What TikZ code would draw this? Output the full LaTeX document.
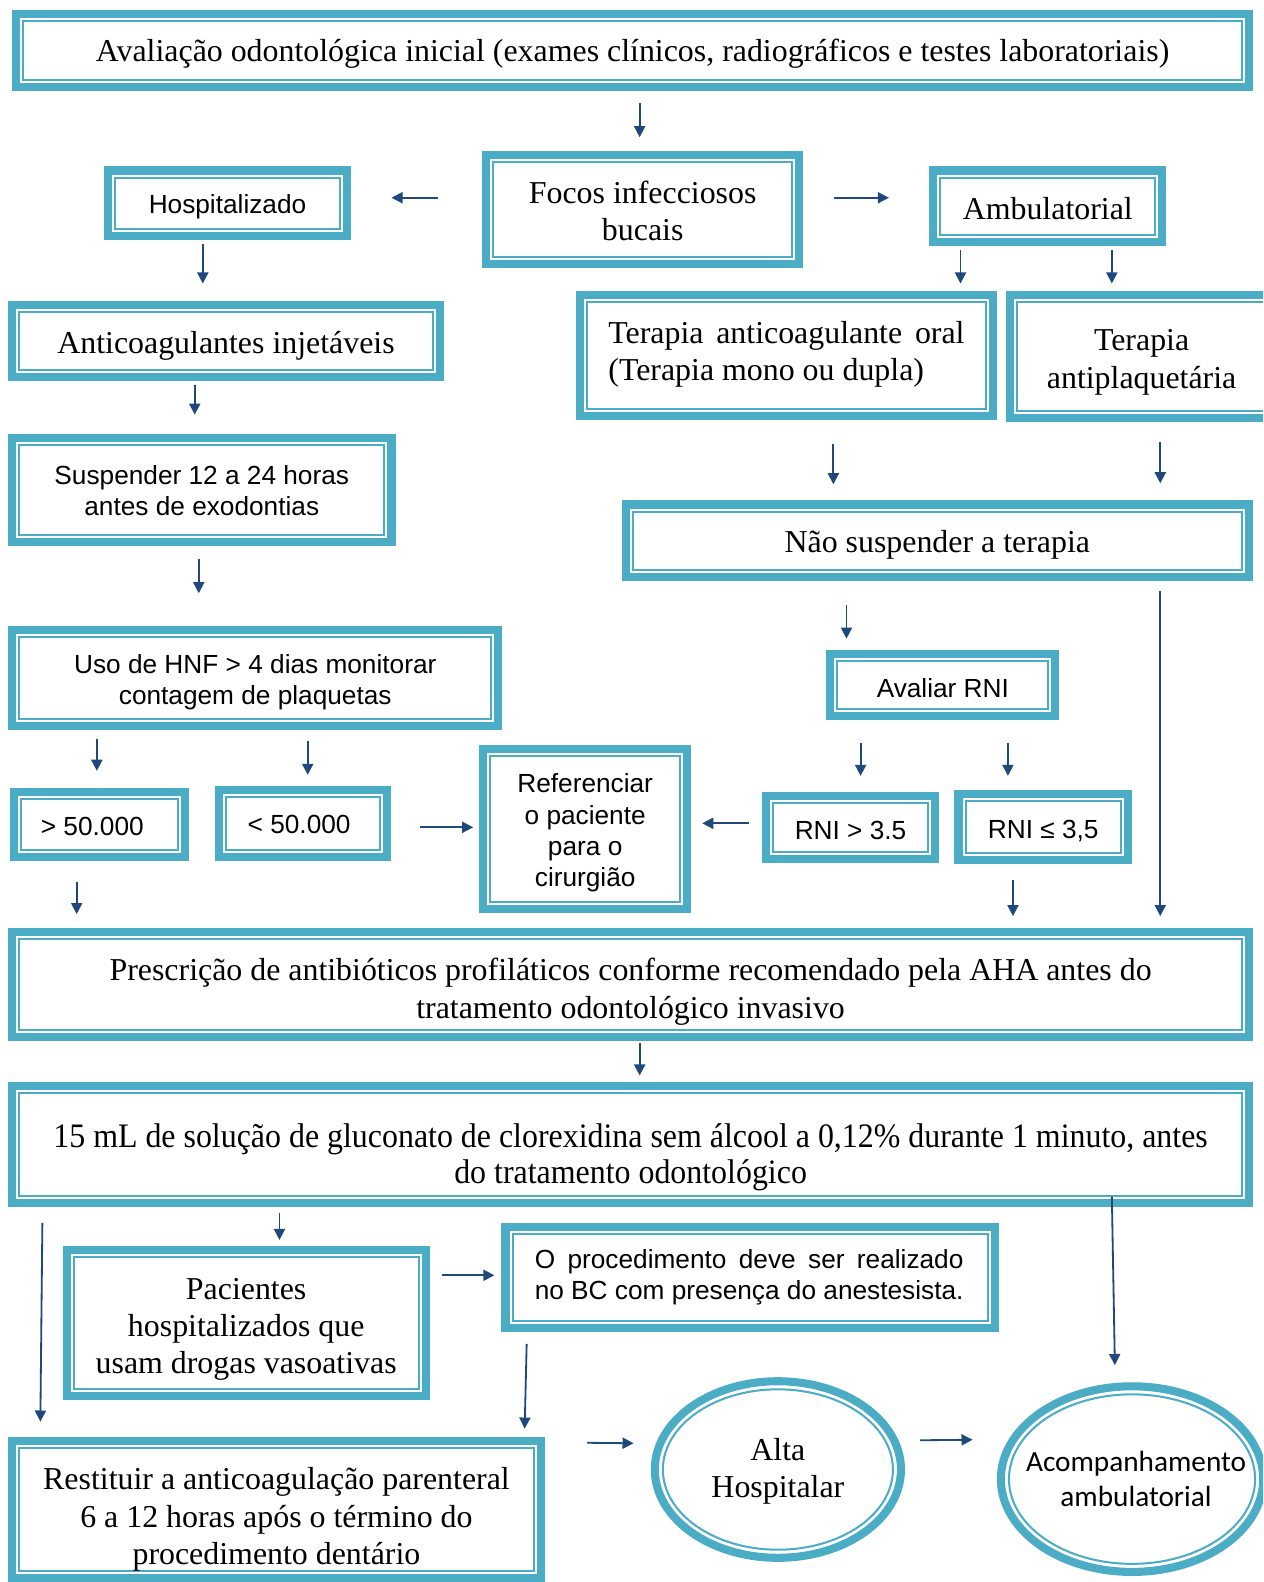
\documentclass[tikz,border=0pt]{standalone}
\usepackage{fontspec}
\usepackage{graphicx}
\setmainfont{Liberation Serif}
\setsansfont{Liberation Sans}
\newfontfamily\calibfont{Carlito}
\usetikzlibrary{arrows.meta,calc,shapes.geometric}
\definecolor{boxteal}{HTML}{4BACC6}
\definecolor{arrnavy}{HTML}{1F497D}
\newsavebox\procbox
\sbox\procbox{\sffamily\fontsize{13pt}{15.5pt}\selectfont no BC com presença do anestesista.}
\newlength\procwd
\setlength\procwd{\wd\procbox}
\tikzset{
  dbox/.style={rectangle, draw=boxteal, line width=4pt, inner sep=0pt, fill=white,
    path picture={\draw[boxteal,line width=1pt]
      ([shift={(3.5pt,3.5pt)}]path picture bounding box.south west) rectangle
      ([shift={(-3.5pt,-3.5pt)}]path picture bounding box.north east);}},
  dell/.style={ellipse, draw=boxteal, line width=4pt, inner sep=0pt, fill=white,
    path picture={\draw[boxteal,line width=1pt]
      let \p1=($(path picture bounding box.north east)-(path picture bounding box.center)$) in
      (path picture bounding box.center) ellipse [x radius=\x1-4pt, y radius=\y1-4pt];}},
  serif/.style={font=\fontsize{15.8pt}{18.5pt}\selectfont, align=center},
  sans/.style={font=\sffamily\fontsize{13pt}{15.5pt}\selectfont, align=center},
  arr/.style={draw=arrnavy, line width=0.9pt, -{Triangle[length=5.5pt,width=5.5pt]}},
}
% name, x1, y1, x2, y2 (outer edges), text style, text, text shift
\newcommand\flowbox[8]{%
  \pgfmathsetmacro\bcx{(#2+#4)/2}%
  \pgfmathsetmacro\bcy{(#3+#5)/2}%
  \pgfmathsetmacro\bw{(#4-#2-8)*0.5}%
  \pgfmathsetmacro\bh{(#5-#3-8)*0.5}%
  \node[dbox,minimum width=\bw pt,minimum height=\bh pt] (#1) at (\bcx,\bcy) {};
  \node[inner sep=0pt,#6] (#1-t) at ([shift={#8}]#1.center) {#7};}
\newcommand\flowell[8]{%
  \pgfmathsetmacro\bcx{(#2+#4)/2}%
  \pgfmathsetmacro\bcy{(#3+#5)/2}%
  \pgfmathsetmacro\bw{(#4-#2-8)*0.5}%
  \pgfmathsetmacro\bh{(#5-#3-8)*0.5}%
  \node[dell,minimum width=\bw pt,minimum height=\bh pt] (#1) at (\bcx,\bcy) {};
  \node[inner sep=0pt,#6] (#1-t) at ([shift={#8}]#1.center) {#7};}
\begin{document}
\begin{tikzpicture}[x=0.5pt,y=-0.5pt]
\useasboundingbox (0,0) rectangle (1252,1568);
\clip (0,0) rectangle (1252,1568);
\fill[white] (0,0) rectangle (1252,1568);

\flowbox{top}{12}{10}{1242}{90}{serif}{Avaliação odontológica inicial (exames clínicos, radiográficos e testes laboratoriais)}{(0,3)}
\flowbox{focos}{478}{150}{796}{266}{serif}{Focos infecciosos\\bucais}{(0,1)}
\flowbox{hosp}{103}{165}{348}{238}{sans}{Hospitalizado}{(0,3)}
\flowbox{amb}{921}{165}{1156}{244}{serif}{Ambulatorial}{(0,2)}
\flowbox{antic}{8}{298}{440}{378}{serif}{Anticoagulantes injetáveis}{(0,5)}
\flowbox{tor}{571}{288}{988}{416}{serif,align=left}{\makebox[176.5pt][s]{Terapia anticoagulante oral}\\(Terapia mono ou dupla)}{(0,-1)}
\flowbox{tap}{997}{288}{1270}{418}{serif}{Terapia\\antiplaquetária}{(-2,6)}
\flowbox{susp}{8}{430}{392}{541}{sans}{Suspender 12 a 24 horas\\antes de exodontias}{(0,1)}
\flowbox{nao}{616}{496}{1242}{576}{serif}{Não suspender a terapia}{(0,4)}
\flowbox{hnf}{8}{620}{498}{724}{sans}{Uso de HNF > 4 dias monitorar\\contagem de plaquetas}{(0,4)}
\flowbox{aval}{819}{644}{1050}{714}{sans}{Avaliar RNI}{(0,3)}
\flowbox{g50}{10}{781}{187}{853}{sans}{> 50.000}{(-7,2)}
\flowbox{l50}{213}{779}{388}{853}{sans}{< 50.000}{(-4,1)}
\flowbox{ref}{475}{738}{685}{905}{sans}{Referenciar\\o paciente\\para o\\cirurgião}{(0,4)}
\flowbox{rg}{755}{785}{931}{855}{sans}{RNI > 3.5}{(0,3)}
\flowbox{rl}{946}{783}{1122}{856}{sans}{RNI ≤ 3,5}{(0,4)}
\flowbox{pres}{8}{920}{1242}{1032}{serif}{Prescrição de antibióticos profiláticos conforme recomendado pela AHA antes do\\tratamento odontológico invasivo}{(0,7)}
\flowbox{clx}{8}{1072}{1242}{1196}{serif}{\scalebox{0.93}[1]{\parbox{640pt}{\centering\fontsize{17pt}{18pt}\selectfont 15 mL de solução de gluconato de clorexidina sem álcool a 0,12\% durante 1 minuto, antes\\do tratamento odontológico}}}{(0,13)}
\flowbox{pac}{62}{1235}{426}{1388}{serif}{Pacientes\\hospitalizados que\\usam drogas vasoativas}{(0,6)}
\flowbox{proc}{497}{1212}{990}{1320}{sans,align=left}{\makebox[\procwd][s]{O procedimento deve ser realizado}\\no BC com presença do anestesista.}{(-1,0)}
\flowbox{rest}{8}{1424}{540}{1568}{serif}{Restituir a anticoagulação parenteral\\6 a 12 horas após o término do\\procedimento dentário}{(0,10)}
\flowell{alta}{645}{1365}{897}{1548}{serif}{Alta\\Hospitalar}{(0,2)}
\flowell{acomp}{988}{1370}{1256}{1562}{font=\calibfont\fontsize{14.5pt}{17.5pt}\selectfont,align=center}{Acompanhamento\\ambulatorial}{(4,0)}

% connectors
\draw[arr] ([shift={(7,12)}]top.south) -- ([shift={(-3,-14)}]focos.north);
\draw[arr] ([shift={(-44,-12)}]focos.west) -- ([shift={(40,-5.5)}]hosp.east);
\draw[arr] ([shift={(31,-12)}]focos.east) -- ([shift={(-40,-8.5)}]amb.west);
\draw[arr] ([shift={(-24.5,4)}]hosp.south) -- ([shift={(-23,-17)}]antic.north);
\draw[arr] ([shift={(-86.5,4)}]amb.south) -- ([shift={(172.5,-7)}]tor.north);
\draw[arr] ([shift={(63.5,4)}]amb.south) -- ([shift={(-31.5,-7)}]tap.north);
\draw[arr] ([shift={(-31,4)}]antic.south) -- ([shift={(-7,-19)}]susp.north);
\draw[arr] ([shift={(-3,13)}]susp.south) -- ([shift={(-56,-32)}]hnf.north);
\draw[arr] ([shift={(46.5,24)}]tor.south) -- ([shift={(-103,-16)}]nao.north);
\draw[arr] ([shift={(16.5,20)}]tap.south) -- ([shift={(221,-17)}]nao.north);
\draw[arr] ([shift={(-90,24)}]nao.south) -- ([shift={(-95.5,-11)}]aval.north);
\draw[arr] ([shift={(221,10)}]nao.south) -- ([shift={(525,-12)}]pres.north);
\draw[arr] ([shift={(-157,8)}]hnf.south) -- ([shift={(-2.5,-17)}]g50.north);
\draw[arr] ([shift={(52,10)}]hnf.south) -- ([shift={(4.5,-11)}]l50.north);
\draw[arr] ([shift={(28,4)}]l50.east) -- ([shift={(-6,-1.5)}]ref.west);
\draw[arr] ([shift={(-13,-4)}]rg.west) -- ([shift={(11,-5.5)}]ref.east);
\draw[arr] ([shift={(-81.5,22)}]aval.south) -- ([shift={(10,-16)}]rg.north);
\draw[arr] ([shift={(64.5,22)}]aval.south) -- ([shift={(-35,-14)}]rl.north);
\draw[arr] ([shift={(-22.5,21)}]g50.south) -- ([shift={(-549,-14)}]pres.north);
\draw[arr] ([shift={(-30,16)}]rl.south) -- ([shift={(379,-12)}]pres.north);
\draw[arr] ([shift={(9,2)}]pres.south) -- ([shift={(9,-6)}]clx.north);
\draw[arr] ([shift={(-348,6)}]clx.south) -- ([shift={(33,-6)}]pac.north);
\draw[arr] ([shift={(-583,16)}]clx.south) -- ([shift={(-234,-15)}]rest.north);
\draw[arr] ([shift={(12,-47.5)}]pac.east) -- ([shift={(-7,-2)}]proc.west);
\draw[arr] ([shift={(-221.5,12)}]proc.south) -- ([shift={(246,-8)}]rest.north);
\draw[arr] ([shift={(42,-66)}]rest.east) -- ([shift={(-17,-26)}]alta.west);
\draw[arr] ([shift={(15,-29)}]alta.east) -- ([shift={(-24,-39)}]acomp.west);
\draw[arr] ([shift={(477,-10)}]clx.south) -- ([shift={(-17,-17)}]acomp.north);
\end{tikzpicture}
\end{document}
